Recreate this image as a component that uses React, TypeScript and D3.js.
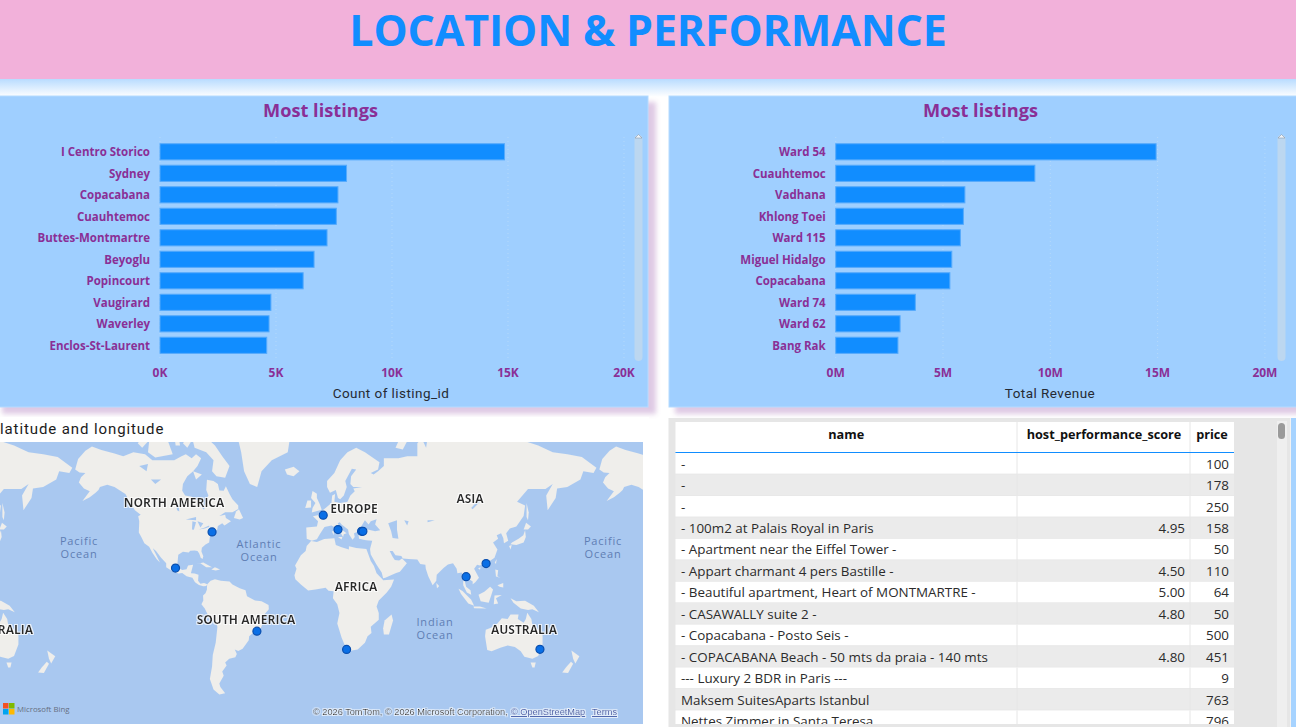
import React from "react";
import * as d3 from "d3";

const neighbourhoods = ["I Centro Storico","Sydney","Copacabana","Cuauhtemoc","Buttes-Montmartre","Beyoglu","Popincourt","Vaugirard","Waverley","Enclos-St-Laurent"];
const listingCounts = [14850,8040,7670,7600,7200,6640,6170,4780,4700,4600];
const wards = ["Ward 54","Cuauhtemoc","Vadhana","Khlong Toei","Ward 115","Miguel Hidalgo","Copacabana","Ward 74","Ward 62","Bang Rak"];
const revenues = [14.93,9.28,6.02,5.95,5.81,5.41,5.32,3.71,3.0,2.9];
const countTicks = [0,5000,10000,15000,20000];
const revenueTicks = [0,5,10,15,20];

const tableNames = ["-","-","-","- 100m2 at Palais Royal in Paris","- Apartment near the Eiffel Tower -","- Appart charmant 4 pers Bastille -","- Beautiful apartment, Heart of MONTMARTRE -","- CASAWALLY suite 2 -","- Copacabana - Posto Seis -","- COPACABANA Beach - 50 mts da praia - 140 mts","--- Luxury 2 BDR in Paris ---","Maksem SuitesAparts Istanbul","Nettes Zimmer in Santa Teresa"];
const tableScores = ["","","","4.95","","4.50","5.00","4.80","","4.80","","",""];
const tablePrices = ["100","178","250","158","50","110","64","50","500","451","9","763","796"];

const cities: [number, number][] = [[-74,40.7],[-99.1,19.4],[-43.2,-22.9],[18.4,-33.9],[2.35,48.86],[12.5,41.9],[28.7,41],[29.6,41],[100.5,13.75],[114.2,22.3],[151.2,-33.87]];

const land: [number, number][][] = [
 [[-168,65.5],[-166,68.3],[-161,70.3],[-156.5,71.3],[-150,70.5],[-141,69.7],[-135,69],[-128,70],[-120,69.5],[-115,68],[-108,68],[-100,68],[-95,69],[-92,69.5],[-88,68.5],[-85,69.5],[-81.5,68.5],[-84,66.5],[-87,65],[-91,63.5],[-94,61],[-94.5,58.7],[-92.5,57],[-88,56.5],[-85,55.3],[-82.2,55],[-82,52.9],[-79.5,51.2],[-79,52.5],[-78.5,55],[-76.5,57],[-78,59],[-77.5,62.4],[-73,62],[-70,61],[-69,58.8],[-66,58.7],[-64.5,60.3],[-62,57.5],[-60,55.5],[-56,53],[-56,51.6],[-60,50.2],[-65,50.2],[-69,48.5],[-65,49],[-64.5,47.5],[-61,46],[-65.5,44],[-67,45],[-70,43.7],[-70.5,41.8],[-74,40.7],[-75.5,38],[-76,35],[-78.5,33.8],[-81,32],[-81.3,29.8],[-80,26.8],[-80.5,25.2],[-81.8,26],[-82.8,28.5],[-84,30],[-86,30.4],[-89,30.2],[-90,29.2],[-94,29.6],[-97.2,27.8],[-97.6,24],[-97.8,22.3],[-96,19],[-94.5,18.2],[-91.5,18.6],[-90.5,21],[-87,21.5],[-88,18],[-88.5,16],[-86,15.8],[-83.3,15],[-83.6,11],[-82,9],[-79.5,9.5],[-77.3,8.6],[-78,7.5],[-80,7.3],[-83,8.2],[-85.7,10],[-87.5,13],[-91.5,14],[-94.5,16.2],[-97,15.9],[-101.5,17.5],[-105.5,20],[-105.5,22.5],[-109,26],[-112.5,30],[-114.7,31.7],[-112,27],[-109.8,23],[-112,25],[-115,29],[-117.2,32.6],[-120.5,34.5],[-122.5,37.8],[-124.3,40.4],[-124,46],[-124.7,48.4],[-123,49],[-127,51],[-130.5,54.5],[-133.5,57.5],[-137,58.7],[-141,60],[-146,60.8],[-151,60],[-152,59],[-154,58],[-158,56.3],[-163,54.8],[-158,58.5],[-162,59.5],[-165.5,61.5],[-164,63.2],[-161,64.5],[-165,64.6]],
 [[-80,73.7],[-72,71.5],[-67,69],[-62,66.5],[-65,63],[-71,63.5],[-74,65],[-73,68],[-78,70],[-86,71],[-88,73.5]],
 [[-117,73],[-105,73],[-101,69.5],[-113,68.7],[-118,70]],
 [[-125,72],[-118,74.5],[-116,73],[-122,71]],
 [[-96,73.5],[-80,74.5],[-80,80],[-96,80]],
 [[-100,73.8],[-97,73.5],[-96,71.5],[-99,71.5]],
 [[-90,73.5],[-86,73.5],[-91,71],[-94,72]],
 [[-87,65],[-81,64],[-85,62.5]],
 [[-59,47.6],[-55,46.8],[-52.7,47.5],[-55.5,51.5],[-57.5,50.5]],
 [[-73,78],[-60,82],[-30,83],[-18,80],[-20,74],[-22,70],[-33,68],[-40,65],[-43,60],[-48,61],[-52,65],[-54,70],[-58,75],[-68,76]],
 [[-85,22],[-80,23],[-75,20.5],[-74,20],[-78,20],[-82,22.5]],
 [[-74.5,18.5],[-72,20],[-68.5,18.5],[-71.5,17.8]],
 [[-77.3,8.6],[-75,11],[-72,12],[-68,11],[-62,10.5],[-60,8.5],[-55,6],[-51,4.5],[-50,0.5],[-44.5,-2.5],[-40,-3],[-35.2,-5.5],[-35,-8.5],[-39,-13],[-39,-17.5],[-41,-22],[-44.5,-23],[-48.5,-26],[-48.8,-28.5],[-53,-33.5],[-56,-34.8],[-58.4,-34],[-57,-36.5],[-58,-38.3],[-62.2,-39],[-65,-41],[-64,-42.5],[-67,-45.5],[-66,-47.5],[-69,-51],[-68.3,-52.5],[-65,-55],[-69,-55.5],[-73,-53.5],[-75.5,-49],[-74,-43],[-73.5,-37],[-71.5,-30],[-70.3,-20],[-71.5,-17.5],[-76,-14],[-79,-8],[-81.3,-5],[-80,-2.5],[-80.2,1],[-78.5,2.5],[-77.5,5],[-77.5,7]],
 [[-6,35.8],[-2,35.2],[3,36.9],[10,37.3],[11,33.5],[15,32.3],[20,31],[20,32.8],[25,31.8],[32,31.2],[32.5,30],[35,24],[37.2,20.8],[39,16],[43,12],[43.5,11.3],[51,11.9],[49,7],[46,3],[40.5,-2.5],[39,-6.5],[40.5,-11],[40.5,-15.5],[35,-20],[35.5,-24],[32.8,-26],[31,-30],[26,-34],[20,-34.8],[18.4,-34],[15,-27],[12,-18],[13.5,-11],[12,-5],[9,-1],[9.5,3.8],[6,4.3],[4,6.3],[-3,5],[-8,4.4],[-13,8.5],[-16.8,12],[-17.4,14.7],[-16,19],[-17,21],[-13,27.5],[-9.7,30],[-9,33]],
 [[49.3,-12],[50.3,-16],[47.5,-25],[44,-25],[43.5,-21],[44.5,-16]],
 [[-5.5,36],[-9,37],[-9.3,43],[-2,43.5],[-1.2,46],[-4.7,48.3],[-1.5,48.8],[2,51],[4,52],[8,54],[8.5,57],[10.5,57.5],[10,54.5],[14,54],[19,54.5],[21,57],[24,58.5],[23,59.5],[29,60],[23,60],[21,61],[21.5,63.5],[25,65.5],[22,65.7],[17.5,62],[18.5,60],[16.5,57],[14,55.5],[12.5,56],[11,59],[7,58],[5,60],[5,62],[10,64.5],[14,68],[19,70],[25,71],[31,70],[41,67.5],[40,65.5],[35,64.5],[37,64],[40,65],[44,66.5],[44,68.5],[54,68.5],[60,69],[67,69],[67,72],[70,73],[73,71],[74,73],[80,73.5],[88,75.5],[104,77.7],[113,74],[128,72.5],[140,72.5],[150,71.5],[160,70],[170,69.5],[180,68.8],[190,66],[188,64.5],[181,65],[179,62.5],[170,60],[163,59.5],[162,56],[156.5,51],[155.5,57],[160,61],[155,59.3],[143,59.3],[135.5,54.5],[141,53],[140,48.5],[135,43.5],[130.5,42.5],[128,40],[129.4,36],[126.5,34.5],[126,37.5],[124.5,40],[121.5,39],[122.5,37],[119,35],[122,31],[120,26],[114.2,22.3],[110,21],[108,21.5],[106,19],[109.3,13],[106.8,10],[105,8.7],[105,10.5],[102,12.5],[100.8,13.5],[99.5,11],[100.5,7],[103.5,4.5],[104,1.4],[101,3],[98.5,8],[98.5,12],[97.5,16.5],[94.5,16],[94,19],[91.5,22.5],[88,21.7],[85,19.5],[80.3,15],[80,11],[77.5,8],[74.5,14],[72.8,19],[72.5,21.5],[69,22],[67,24.8],[61,25.2],[57,25.5],[56,27],[52,27.5],[50,30],[48,30],[50,26.5],[51.5,24.5],[54.5,24.2],[56.5,25.5],[59.8,22.5],[55,17],[52,16],[45,13],[43.5,12.7],[42.5,16.5],[39,21.5],[35,28],[34.5,31.3],[36,36],[32,36.2],[30,36.5],[27,37],[26.5,39.5],[29,41],[33,42],[38,41],[41.5,41.5],[38,44.5],[39,47],[35,46],[33.5,44.5],[31,46.5],[28,43],[28.5,41.3],[26,40.8],[23.5,40],[24,38],[22.5,36.5],[20,39.5],[19.4,42],[15,44.5],[13.7,45.5],[12.3,45],[14,42.5],[18.4,40],[16.5,39.5],[16,38],[14,40.7],[10.5,43],[8,44],[3.2,43.2],[0,39.5],[-2,36.8]],
 [[-5.5,50],[1.3,51.2],[0,53.5],[-2,56],[-2,57.6],[-5,58.6],[-6,56],[-3,54],[-5,52]],
 [[-10,52],[-6,52.2],[-6,55],[-8.5,55]],
 [[-24,65.5],[-18,66.3],[-14,65],[-18,63.5],[-22.5,64]],
 [[130.9,34],[135,33.6],[140,35],[141.5,38],[141,41.5],[139.8,39],[136.5,37],[132,35]],
 [[140,42],[141.7,45.3],[145,43.5],[143,42]],
 [[130,33],[131.8,33.5],[131,31]],
 [[142,54],[143.5,50],[143,46.5],[142,48],[142,52]],
 [[120.2,23],[121.5,25.2],[121,22]],
 [[108.7,19.3],[110.5,20],[110,18.3]],
 [[120.5,18.5],[122.5,18],[122,14],[124,13],[121,13.8]],
 [[122,8],[126,9.5],[126,6.5],[123.5,7]],
 [[109,1.5],[113,3.5],[117,7],[119,5],[117.7,1],[116,-4],[110.5,-3]],
 [[95.3,5.6],[98,4],[104,-2],[106,-6],[102,-4.5],[97,2]],
 [[105.5,-6.5],[110,-6.5],[114.5,-8],[106,-7.7]],
 [[119.5,-5],[120,1],[125,1.3],[121,-1],[122.5,-4.5]],
 [[131,-1],[135,-3],[141,-2.7],[147,-6],[150.5,-10.5],[146,-8.5],[143,-9],[138,-8],[133,-4]],
 [[114,-22],[113.5,-26],[115,-34.3],[118,-35],[124,-33],[129,-31.6],[134,-32.5],[138,-35],[140.5,-38],[146,-39],[150,-37.5],[153,-31],[153,-25.5],[149,-21],[146,-19],[145.3,-15],[142.5,-10.8],[141.5,-15],[140,-17.5],[136,-15],[136.5,-12],[131,-12],[129,-15],[125,-14.5],[122,-18],[118,-20.5]],
 [[144.8,-41],[148.3,-41],[147.5,-43.5],[146,-43.5]],
 [[172.8,-34.5],[178.3,-37.7],[175.5,-41.5],[174,-39]],
 [[172.5,-40.6],[174,-41.7],[170.5,-46.2],[166.5,-46],[169,-43.5]],
 [[80,9.5],[82,7.5],[80.5,6]],
 [[52,71],[57,70.6],[68,76.5],[60,76]],
 [[12.5,38],[15.5,38],[15,36.7]],
 [[8.3,41],[9.7,41],[9.5,39]],
];
const lakes: [number, number][][] = [
 [[47,45],[53,46.5],[53,42],[54,37],[50,37.5],[49,41]],
 [[-92,46.8],[-85,48],[-85,46.5]],
 [[-87.5,46],[-85,45.5],[-86.5,41.8],[-87.8,42]],
 [[-84,46],[-80,45],[-82,43]],
 [[-83,42],[-79,43],[-76,44],[-76,43.2],[-79,42.4]],
 [[-124,66.5],[-118,67],[-119,65]],
 [[-116,62.5],[-109,62.5],[-113,61]],
 [[-99,53.5],[-97,53.5],[-96.5,50.5],[-98,51]],
 [[58,46.5],[61,46],[60,44]],
 [[74,46.5],[79,46.5],[74,45.5]],
 [[104,52],[109.5,55.5],[110,54.5],[105,51.5]],
];
const continentLabels: [string, number, number][] = [["NORTH AMERICA",174,504],["EUROPE",354,510],["ASIA",470,500],["AFRICA",356,588],["SOUTH AMERICA",246,621],["AUSTRALIA",524,631],["AUSTRALIA",0,631]];
const oceanLabels: [string, string, number, number][] = [["Pacific","Ocean",79,541],["Atlantic","Ocean",259,544],["Indian","Ocean",435,622],["Pacific","Ocean",603,541]];

const PURPLE = "#8a2f96";
const BLUE = "#118dff";
const UI = "'Open Sans', 'Noto Sans', sans-serif";
const DIN = "Roboto, 'Noto Sans', sans-serif";

function BarPanel(props: { px: number; pw: number; title: string; titleX: number; names: string[]; values: number[]; ticks: number[]; fmt: (v: number) => string; x0: number; x1: number; axisTitle: string; axisX: number; sbX: number; }) {
  const { px, pw, title, titleX, names, values, ticks, fmt, x0, x1, axisTitle, axisX, sbX } = props;
  const x = d3.scaleLinear().domain([ticks[0], ticks[ticks.length - 1]]).range([x0, x1]);
  const y = d3.scaleBand<string>().domain(names.map((n, i) => i + n)).range([140.75, 355.75]).paddingInner(0.25).paddingOuter(0.125);
  return (
    <g>
      <rect x={px + 6} y={102} width={pw + 2} height={312} fill="#b88ac4" opacity={0.45} filter="url(#soft)" />
      <rect x={px} y={96} width={pw} height={311} fill="#9fcfff" stroke="#b5dbff" strokeWidth={1} />
      <text x={titleX} y={117} textAnchor="middle" fontFamily={UI} fontWeight={700} fontSize={18.2} fill={PURPLE}>{title}</text>
      {ticks.map(t => <line key={t} x1={x(t)} x2={x(t)} y1={137} y2={358} stroke="#b4d9fb" strokeWidth={1} strokeDasharray="1 3" />)}
      {names.map((n, i) => (
        <g key={i}>
          <rect x={x(ticks[0])} y={y(i + n)! + 0.3} width={x(values[i]) - x(ticks[0])} height={y.bandwidth()} fill={BLUE} stroke="#55aafc" strokeWidth={1} />
          <text x={x0 - 10} y={y(i + n)! + y.bandwidth() / 2 + 4.6} textAnchor="end" fontFamily={UI} fontWeight={700} fontSize={11.5} fill={PURPLE}>{n}</text>
        </g>
      ))}
      {ticks.map(t => <text key={t} x={x(t)} y={377} textAnchor="middle" fontFamily={UI} fontWeight={700} fontSize={12} fill={PURPLE}>{fmt(t)}</text>)}
      <text x={axisX} y={398} textAnchor="middle" fontFamily={DIN} fontSize={13.5} letterSpacing={0.45} fill="#252a33">{axisTitle}</text>
      <rect x={sbX} y={135} width={8} height={226} rx={4} fill="#bcd7f0" />
      <path d={`M${sbX + 0.5} 138 L${sbX + 4} 134.5 L${sbX + 7.5} 138 Z`} fill="#eef4fa" stroke="#7d8a9a" strokeWidth={0.5} />
    </g>
  );
}

export default function App() {
  const k = 1.456 * 180 / Math.PI;
  const projection = d3.geoMercator().scale(k).translate([319.8, 596.9]);
  const worldWidth = 2 * Math.PI * k;
  const pathOf = d3.line<[number, number]>().x(d => d[0]).y(d => d[1]).curve(d3.curveLinearClosed);
  const shape = (ring: [number, number][], shift: number) => pathOf(ring.map(([lon, lat]) => {
    const wrapped = lon > 180 ? lon - 360 : lon;
    const p = projection([wrapped, 0])!;
    const q = projection([0, lat])!;
    return [p[0] + shift + (lon > 180 ? worldWidth : 0), q[1]] as [number, number];
  })) as string;
  const shifts = [-worldWidth, 0, worldWidth];

  const rowH = 21.45;
  const rowTop = 453;
  const col = { l: 675.5, a: 1017, b: 1190, r: 1234 };

  return (
    <svg width={1296} height={727} viewBox="0 0 1296 727" style={{ position: "fixed", left: 0, top: 0, background: "#fff", display: "block" }}>
      <defs>
        <linearGradient id="glow" x1="0" x2="0" y1="0" y2="1">
          <stop offset="0" stopColor="#b9dcff" />
          <stop offset="1" stopColor="#ffffff" />
        </linearGradient>
        <filter id="soft" x="-5%" y="-5%" width="110%" height="110%"><feGaussianBlur stdDeviation="2.5" /></filter>
        <filter id="mapblur"><feGaussianBlur stdDeviation="0.45" /></filter>
        <filter id="halo" x="-10%" y="-30%" width="120%" height="160%"><feMorphology in="SourceAlpha" operator="dilate" radius="1" result="d" /><feFlood floodColor="#fff" floodOpacity="0.75" /><feComposite in2="d" operator="in" /><feGaussianBlur stdDeviation="0.6" /><feMerge><feMergeNode /><feMergeNode in="SourceGraphic" /></feMerge></filter>
        <clipPath id="mapclip"><rect x={0} y={442} width={643} height={282} /></clipPath>
      </defs>

      <rect x={0} y={79} width={1296} height={18} fill="url(#glow)" />
      <rect x={0} y={0} width={1296} height={79} fill="#f2b1da" />
      <text x={648} y={46} textAnchor="middle" fontFamily={UI} fontWeight={700} fontSize={43} letterSpacing={-0.15} fill={BLUE}>LOCATION &amp; PERFORMANCE</text>

      <BarPanel px={-4} pw={652} title="Most listings" titleX={320.5} names={neighbourhoods} values={listingCounts} ticks={countTicks} fmt={v => `${v / 1000}K`} x0={160} x1={624} axisTitle="Count of listing_id" axisX={391} sbX={634.5} />
      <BarPanel px={669} pw={631} title="Most listings" titleX={980.5} names={wards} values={revenues} ticks={revenueTicks} fmt={v => `${v}M`} x0={835.7} x1={1264.9} axisTitle="Total Revenue" axisX={1050} sbX={1277.5} />

      {/* map visual */}
      <rect x={0} y={417} width={649} height={310} fill="#fff" />
      <text x={0} y={434} fontFamily={DIN} fontSize={15} letterSpacing={0.9} fill="#1c1c1c">latitude and longitude</text>
      <g clipPath="url(#mapclip)">
        <rect x={0} y={442} width={643} height={282} fill="#a9c8f0" />
        <g filter="url(#mapblur)">
          {shifts.map(s => land.map((r, i) => <path key={s + "l" + i} d={shape(r, s)} fill="#efeeeb" />))}
          {shifts.map(s => lakes.map((r, i) => <path key={s + "w" + i} d={shape(r, s)} fill="#a9c8f0" />))}
        </g>
        {continentLabels.map(([t, x, y], i) => <text key={i} x={x} y={y} textAnchor="middle" dominantBaseline="middle" fontFamily={UI} fontWeight={700} fontSize={12} fill="#2a2a2a" filter="url(#halo)">{t}</text>)}
        {oceanLabels.map(([a, b, x, y], i) => (
          <g key={i} fontFamily={UI} fontSize={11} letterSpacing={0.8} fill="#5f7eb4" textAnchor="middle">
            <text x={x} y={y + 4}>{a}</text>
            <text x={x} y={y + 17}>{b}</text>
          </g>
        ))}
        {cities.map(([lon, lat], i) => {
          const p = projection([lon, lat])!;
          return <circle key={i} cx={p[0]} cy={p[1]} r={4} fill="#0a6fe6" stroke="#0b4fae" strokeWidth={1.2} />;
        })}
        <g>
          <rect x={3} y={703} width={5.5} height={5.5} fill="#f25022" />
          <rect x={9} y={703} width={5.5} height={5.5} fill="#7fba00" />
          <rect x={3} y={709} width={5.5} height={5.5} fill="#00a4ef" />
          <rect x={9} y={709} width={5.5} height={5.5} fill="#ffb900" />
          <text x={17} y={712} fontFamily="'Open Sans', sans-serif" fontSize={7.8} fill="#666f80">Microsoft Bing</text>
        </g>
        <g filter="url(#halo)" fontFamily="'Liberation Sans', Arial, sans-serif" fontSize={9.2}>
          <text x={313} y={715} fill="#111">© 2026 TomTom, © 2026 Microsoft Corporation,</text>
          <text x={511} y={715} fill="#2b4fa5" textDecoration="underline">© OpenStreetMap</text>
          <text x={592} y={715} fill="#2b4fa5" textDecoration="underline">Terms</text>
        </g>
      </g>

      {/* table visual */}
      <rect x={668.5} y={418} width={622} height={309} fill="#e6e6e6" />
      <rect x={1291} y={418} width={5} height={309} fill="#a6d3ff" />
      <rect x={1277} y={421} width={10} height={306} fill="#efefef" />
      <rect x={1278} y={423} width={7} height={16} rx={3.5} fill="#9a9a9a" />
      <clipPath id="tableclip"><rect x={668} y={418} width={600} height={306} /></clipPath>
      <g clipPath="url(#tableclip)">
        <rect x={col.l} y={422} width={col.r - col.l} height={30} fill="#fff" />
        <line x1={col.l} x2={col.r} y1={452.5} y2={452.5} stroke={BLUE} strokeWidth={1.2} />
        {[col.a, col.b].map(x => <line key={x} x1={x} x2={x} y1={422} y2={452} stroke="#e6e6e6" />)}
        <g fontFamily={UI} fontWeight={700} fontSize={12.7} fill="#111">
          <text x={(col.l + col.a) / 2} y={439} textAnchor="middle">name</text>
          <text x={(col.a + col.b) / 2 + 0.5} y={439} textAnchor="middle">host_performance_score</text>
          <text x={(col.b + col.r) / 2} y={439} textAnchor="middle">price</text>
        </g>
        {tableNames.map((n, i) => {
          const top = rowTop + i * rowH;
          const base = top + 15.6;
          return (
            <g key={i} fontFamily={UI} fontSize={13.4} fill="#2b2b2b">
              <rect x={col.l} y={top} width={col.r - col.l} height={rowH - 0.8} fill={i % 2 ? "#ebebeb" : "#fff"} />
              {[col.a, col.b].map(x => <line key={x} x1={x} x2={x} y1={top} y2={top + rowH} stroke="#e6e6e6" />)}
              <text x={681} y={base}>{n}</text>
              <text x={col.b - 5} y={base} textAnchor="end">{tableScores[i]}</text>
              <text x={col.r - 5} y={base} textAnchor="end">{tablePrices[i]}</text>
            </g>
          );
        })}
      </g>
    </svg>
  );
}
